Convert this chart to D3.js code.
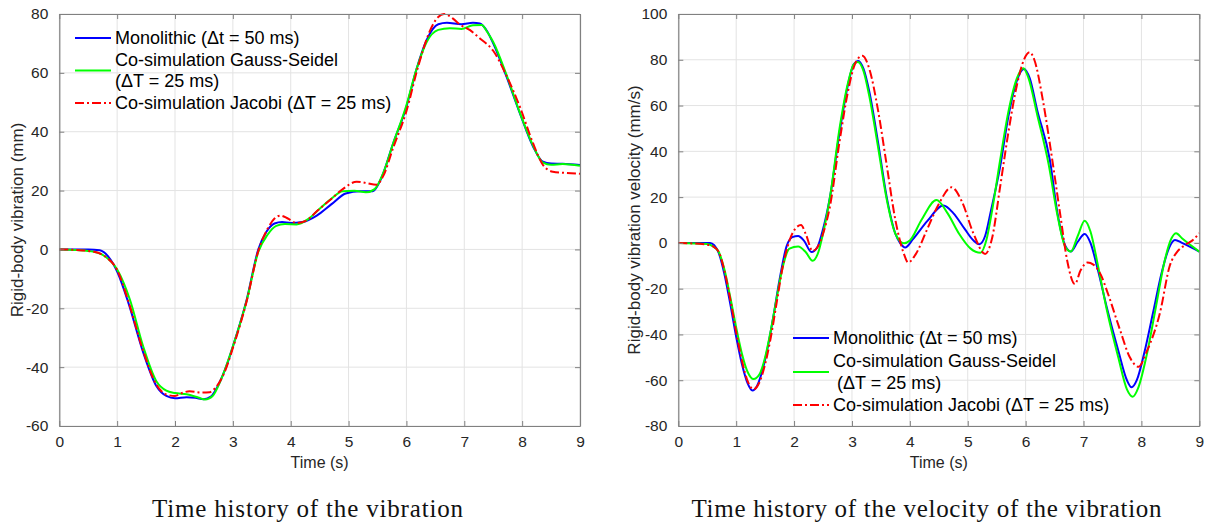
<!DOCTYPE html>
<html>
<head>
<meta charset="utf-8">
<script src="https://cdn.jsdelivr.net/npm/d3@7"></script>
<style>
  body { margin: 0; background: #fff; }
  svg { display: block; }
</style>
</head>
<body>
<div id="chart"></div>
<script>
// Tick values;
var timeTicks = [0, 1, 2, 3, 4, 5, 6, 7, 8, 9]
var vibTicks = [-60, -40, -20, 0, 20, 40, 60, 80]
var velTicks = [-80, -60, -40, -20, 0, 20, 40, 60, 80, 100]

// Rigid-body vibration (mm), [time s, value];
var vibMono = [[0,0],[0.5,0],[0.7,-0.3],[0.85,-2.5],[1.0,-7.5],[1.2,-18.5],[1.45,-35],[1.68,-46.5],[1.85,-49.8],[2.0,-50.6],[2.2,-50.2],[2.35,-50.4],[2.5,-50.9],[2.62,-50],[2.75,-46],[2.9,-39],[3.0,-33],[3.24,-17],[3.44,0],[3.58,6],[3.72,8.8],[3.85,9.3],[4.0,9],[4.2,9.3],[4.45,11.5],[4.7,15.3],[4.95,19],[5.2,19.8],[5.42,19.8],[5.55,23.5],[5.77,36],[6.0,48.5],[6.17,61],[6.35,71.2],[6.55,76.5],[6.7,77],[6.95,76.5],[7.15,77],[7.27,76.8],[7.4,74],[7.5,70],[7.73,58.7],[7.96,46.3],[8.19,34.9],[8.36,29.8],[8.5,29.2],[8.7,29.1],[9,28.7]]
var vibGauss = [[0,0],[0.3,-0.2],[0.6,-0.8],[0.8,-2.5],[1.0,-6.8],[1.22,-17],[1.45,-33],[1.68,-44.9],[1.85,-48],[2.0,-48.8],[2.2,-49.2],[2.4,-50.3],[2.52,-51],[2.65,-49.8],[2.8,-44],[3.0,-33],[3.24,-17.3],[3.44,-0.8],[3.6,5],[3.75,8],[3.9,8.6],[4.1,8.5],[4.3,10.3],[4.5,13.8],[4.7,17.2],[4.9,19.8],[5.1,19.9],[5.3,19.4],[5.45,20.5],[5.6,26],[5.77,36],[6.0,49],[6.17,61],[6.35,70.5],[6.55,74.6],[6.75,75.2],[6.95,74.9],[7.15,76.2],[7.3,76.3],[7.4,73.8],[7.5,70.5],[7.73,59.3],[7.96,46.5],[8.19,35.2],[8.36,29.5],[8.5,28.8],[8.7,29],[9,28.4]]
var vibJacobi = [[0,0],[0.3,-0.2],[0.6,-0.8],[0.8,-2.5],[1.0,-7],[1.2,-18],[1.45,-34.5],[1.68,-46],[1.85,-49.3],[2.0,-49.8],[2.12,-48.8],[2.25,-48.2],[2.45,-48.6],[2.6,-48.5],[2.7,-47],[2.85,-42],[3.0,-33.5],[3.24,-17.5],[3.44,-0.5],[3.6,7],[3.72,10.5],[3.82,11.5],[3.95,10.5],[4.1,9],[4.27,9.8],[4.45,13],[4.68,16.8],[4.9,20.5],[5.14,23],[5.3,22.6],[5.48,22],[5.6,25],[5.77,34.5],[6.0,47],[6.2,62],[6.4,74],[6.55,79],[6.65,80],[6.8,78.5],[6.92,76.5],[7.1,74.5],[7.27,71.7],[7.5,67.5],[7.73,59],[7.96,48.5],[8.19,36],[8.36,28.7],[8.53,26.4],[8.75,26],[9,25.7]]

// Rigid-body vibration velocity (mm/s);
var velMono = [[0,0],[0.55,0],[0.62,-1],[0.7,-4.5],[0.8,-14],[0.9,-27],[1.0,-41],[1.1,-53],[1.2,-61.5],[1.28,-64.5],[1.36,-62.5],[1.45,-56],[1.55,-45],[1.65,-31],[1.75,-16],[1.87,-1.5],[1.97,2.5],[2.07,3],[2.17,1],[2.3,-4],[2.4,-2],[2.5,6],[2.62,20],[2.79,49],[2.93,69],[3.03,78],[3.11,79.5],[3.2,76],[3.3,66],[3.45,44],[3.6,20],[3.75,4],[3.83,0],[3.92,-2],[4.05,1.5],[4.3,9.5],[4.58,16.3],[4.75,13],[4.95,6],[5.1,1],[5.2,-0.6],[5.3,3],[5.4,14],[5.56,33.3],[5.7,55],[5.85,71],[5.97,76],[6.07,72],[6.2,58],[6.42,36],[6.55,13],[6.68,-1],[6.78,-3.8],[6.9,0.5],[7.02,3.9],[7.12,0],[7.25,-12],[7.4,-28],[7.6,-47],[7.75,-60],[7.83,-63.1],[7.92,-60],[8.05,-48],[8.2,-30.6],[8.35,-13],[8.48,-2],[8.58,1.3],[8.7,0],[9,-3.8]]
var velGauss = [[0,0],[0.5,-0.5],[0.6,-1.5],[0.7,-4],[0.8,-12],[0.9,-24],[1.0,-37],[1.1,-48.5],[1.2,-56.5],[1.3,-59.5],[1.4,-57.5],[1.5,-50],[1.6,-38],[1.7,-24],[1.8,-11],[1.92,-2.5],[2.07,-1.6],[2.2,-4],[2.32,-7.8],[2.42,-4],[2.5,4],[2.62,20],[2.79,50.8],[2.93,69.8],[3.03,78],[3.1,79],[3.2,75],[3.3,64],[3.45,42],[3.6,19],[3.75,4],[3.9,-0.2],[4.0,1],[4.2,10],[4.46,18.7],[4.65,13],[4.85,4],[5.05,-2.5],[5.22,-4.3],[5.32,1],[5.42,14],[5.56,36.2],[5.7,57],[5.85,72],[5.96,76.3],[6.05,72],[6.2,56],[6.4,34],[6.55,12],[6.68,-1.5],[6.78,-3.8],[6.9,3],[7.02,9.7],[7.12,5],[7.25,-10],[7.4,-29],[7.6,-50],[7.75,-64],[7.85,-67.2],[7.95,-63],[8.1,-48],[8.25,-28],[8.4,-8],[8.52,2],[8.6,4.2],[8.7,2],[9,-3.8]]
var velJacobi = [[0,0],[0.5,-0.8],[0.6,-1.5],[0.7,-4],[0.8,-12.5],[0.9,-25],[1.0,-39],[1.1,-51.5],[1.2,-60.5],[1.3,-64],[1.4,-61],[1.5,-53],[1.6,-41],[1.7,-26],[1.8,-11],[1.92,1],[2.05,7],[2.12,7.8],[2.2,4],[2.32,-3.5],[2.4,-2],[2.5,4],[2.62,16],[2.79,45],[2.93,66],[3.05,78],[3.18,81.8],[3.3,76],[3.45,58],[3.6,34],[3.75,10],[3.9,-5],[3.97,-8.6],[4.1,-5],[4.3,6],[4.5,17],[4.72,24.3],[4.9,18],[5.1,4],[5.3,-4.8],[5.42,2],[5.56,24.6],[5.7,48],[5.85,69],[5.97,80],[6.07,83.3],[6.15,80],[6.3,62],[6.45,38],[6.6,12],[6.72,-8],[6.85,-18],[6.95,-12],[7.07,-8.6],[7.17,-9.5],[7.3,-14],[7.4,-20.6],[7.63,-38],[7.8,-50],[7.95,-54.1],[8.1,-47],[8.32,-30.6],[8.49,-10],[8.62,-3.8],[8.75,-1],[8.9,1.5],[9,4.2]]

// Legend labels (second entry wraps on two lines);
var seriesNames = ["Monolithic (\u0394t = 50 ms)", "Co-simulation Gauss-Seidel", "Co-simulation Jacobi (\u0394T = 25 ms)"]
var wrapLine = "(\u0394T = 25 ms)"

var captions = ["Time history of the vibration", "Time history of the velocity of the vibration"]

// Style of each series;
var seriesStyle = [
    { color: "#0000ff", dash: null },
    { color: "#00ff00", dash: null },
    { color: "#ff0000", dash: "9,3,2,3" }
]

const width = 1210
const height = 525
const svg = d3.select("#chart").append("svg")
    .attr("width", width)
    .attr("height", height)
    .style("font-family", "'Liberation Sans', Arial, Helvetica, sans-serif")

var panels = [
    {
        x0: 59.3, x1: 580, y0: 14, y1: 426, domain: [-60, 80], ticks: vibTicks,
        series: [vibMono, vibGauss, vibJacobi], ylabel: "Rigid-body vibration (mm)", ylabelX: 17,
        legend: { x: 75, rows: [38, 60, 81, 103], indent: 0 },
        caption: captions[0], capX: 307.5, capW: 311
    },
    {
        x0: 678.3, x1: 1199.3, y0: 14, y1: 426, domain: [-80, 100], ticks: velTicks,
        series: [velMono, velGauss, velJacobi], ylabel: "Rigid-body vibration velocity (mm/s)", ylabelX: 634,
        legend: { x: 793, rows: [338, 361, 383, 405], indent: 4 },
        caption: captions[1], capX: 926.5, capW: 470
    }
]

function drawPanel(p) {
    const x = d3.scaleLinear().domain([0, 9]).range([p.x0, p.x1])
    const y = d3.scaleLinear().domain(p.domain).range([p.y1, p.y0])
    const g = svg.append("g")

    // Grid;
    g.append("g").selectAll("line").data(timeTicks).join("line")
        .attr("x1", d => x(d)).attr("x2", d => x(d))
        .attr("y1", p.y0).attr("y2", p.y1)
        .attr("stroke", "#e3e3e3").attr("stroke-width", 1)
    g.append("g").selectAll("line").data(p.ticks).join("line")
        .attr("y1", d => y(d)).attr("y2", d => y(d))
        .attr("x1", p.x0).attr("x2", p.x1)
        .attr("stroke", "#e3e3e3").attr("stroke-width", 1)

    // Data lines;
    const line = d3.line()
        .x(d => x(d[0]))
        .y(d => y(d[1]))
        .curve(d3.curveMonotoneX)
    p.series.forEach((s, i) => {
        g.append("path")
            .datum(s)
            .attr("d", line)
            .attr("fill", "none")
            .attr("stroke", seriesStyle[i].color)
            .attr("stroke-width", 2)
            .attr("stroke-dasharray", seriesStyle[i].dash)
    })

    // Axes with inward ticks on all four sides, plain hyphen for negatives;
    const tickLen = 5
    const axisColor = "#808080"
    const fmt = d => String(d)
    const bottom = g.append("g").attr("transform", `translate(0,${p.y1})`)
        .call(d3.axisBottom(x).tickValues(timeTicks).tickFormat(fmt).tickSize(-tickLen).tickPadding(10).tickSizeOuter(0))
    const top = g.append("g").attr("transform", `translate(0,${p.y0})`)
        .call(d3.axisTop(x).tickValues(timeTicks).tickSize(-tickLen).tickFormat("").tickSizeOuter(0))
    const left = g.append("g").attr("transform", `translate(${p.x0},0)`)
        .call(d3.axisLeft(y).tickValues(p.ticks).tickFormat(fmt).tickSize(-tickLen).tickPadding(11).tickSizeOuter(0))
    const right = g.append("g").attr("transform", `translate(${p.x1},0)`)
        .call(d3.axisRight(y).tickValues(p.ticks).tickSize(-tickLen).tickFormat("").tickSizeOuter(0))
    ;[bottom, top, left, right].forEach(a => {
        a.select(".domain").attr("stroke", axisColor).attr("stroke-width", 1.2)
        a.selectAll(".tick line").attr("stroke", axisColor)
        a.selectAll("text").attr("fill", "#262626").style("font-size", "15.5px")
            .style("font-family", "'Liberation Sans', Arial, sans-serif")
    })
    bottom.selectAll(".tick text").attr("dy", "0.71em")

    // Axis labels;
    g.append("text")
        .attr("x", (p.x0 + p.x1) / 2).attr("y", 468)
        .attr("text-anchor", "middle")
        .style("font-size", "16px").attr("fill", "#262626")
        .text("Time (s)")
    g.append("text")
        .attr("transform", `translate(${p.ylabelX},${(p.y0 + p.y1) / 2}) rotate(-90)`)
        .attr("text-anchor", "middle").attr("dominant-baseline", "central")
        .style("font-size", "17px").attr("fill", "#262626")
        .text(p.ylabel)

    // Legend (no box);
    const L = p.legend
    const lineY = [L.rows[0], (L.rows[1] + L.rows[2]) / 2, L.rows[3]]
    const textRows = [[seriesNames[0]], [seriesNames[1], (L.indent ? " " : "") + wrapLine], [seriesNames[2]]]
    const rowIdx = [[0], [1, 2], [3]]
    seriesStyle.forEach((st, i) => {
        g.append("line")
            .attr("x1", L.x).attr("x2", L.x + 36)
            .attr("y1", lineY[i]).attr("y2", lineY[i])
            .attr("stroke", st.color).attr("stroke-width", 2)
            .attr("stroke-dasharray", st.dash)
        textRows[i].forEach((t, j) => {
            g.append("text")
                .attr("x", L.x + 40 + (j > 0 ? L.indent : 0))
                .attr("y", L.rows[rowIdx[i][j]])
                .attr("dominant-baseline", "central")
                .style("font-size", "18px").attr("fill", "#000")
                .text(t)
        })
    })

    // Caption under the panel;
    svg.append("text")
        .attr("x", p.capX).attr("y", 517)
        .attr("text-anchor", "middle")
        .attr("textLength", p.capW).attr("lengthAdjust", "spacing")
        .style("font-family", "'Liberation Serif', 'Times New Roman', serif")
        .style("font-size", "25px").attr("fill", "#111")
        .text(p.caption)
}

panels.forEach(drawPanel)
</script>
</body>
</html>
